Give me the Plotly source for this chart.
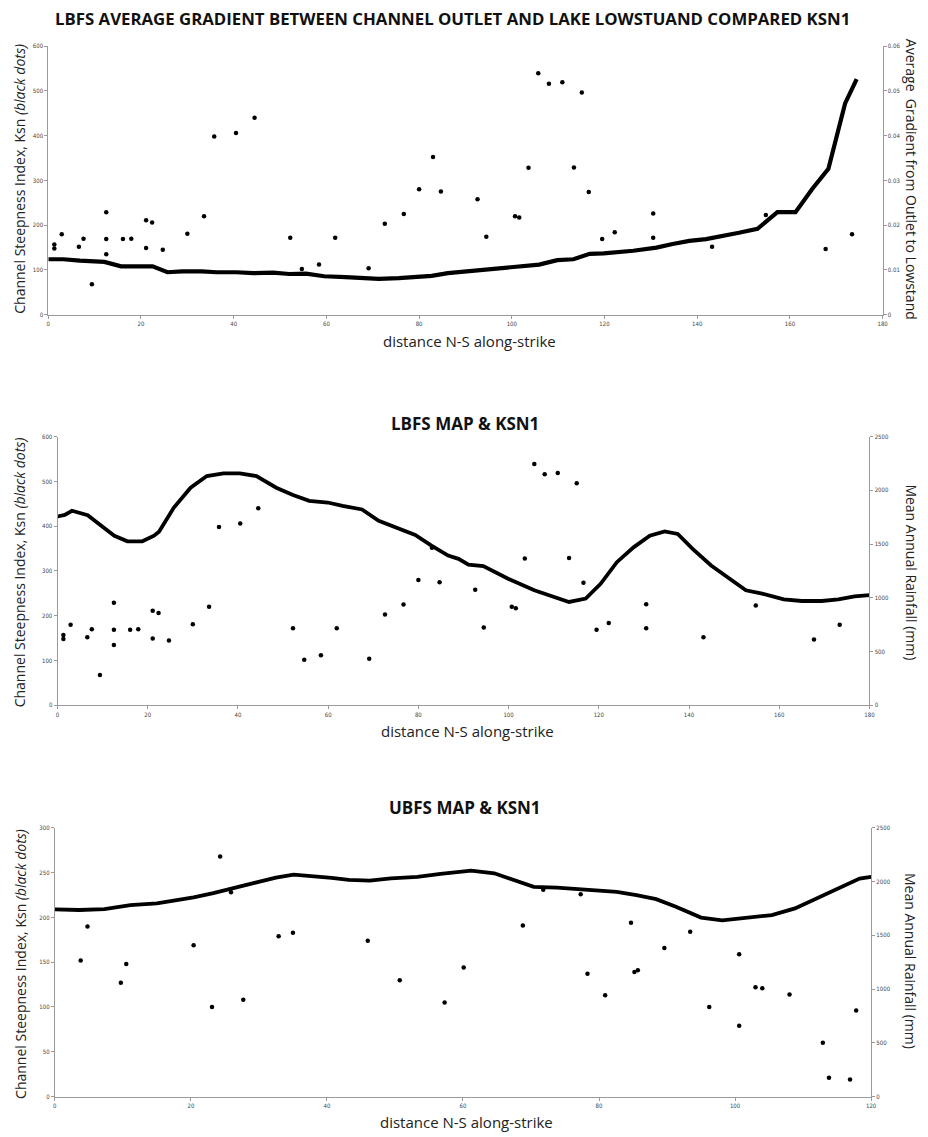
import plotly.graph_objects as go

W, H = 928, 1137

# ---------------- DATA ----------------
# LBFS Ksn (black dots) - used in panels 1 and 2
lbfs_ksn_x = [1.3, 1.3, 2.9, 6.6, 7.6, 9.4, 12.5, 12.5, 12.5, 16.1, 17.9, 21.1, 21.1, 22.4, 24.7,
              30.0, 33.6, 35.8, 40.5, 44.5, 52.2, 54.7, 58.4, 61.9, 69.1, 72.6, 76.7, 80.0, 83.0, 84.7,
              92.6, 94.5, 100.7, 101.6, 103.6, 105.7, 108.0, 110.9, 113.4, 115.1, 116.6, 119.5, 122.2,
              130.5, 130.5, 143.2, 154.8, 167.7, 173.4]
lbfs_ksn_y = [157, 148, 180, 152, 170, 68, 229, 169, 135, 169, 170, 211, 149, 206, 145,
              181, 220, 398, 406, 440, 172, 102, 112, 172, 104, 203, 225, 280, 352, 275,
              258, 174, 220, 217, 328, 539, 516, 519, 329, 496, 274, 169, 184,
              226, 172, 152, 223, 147, 180]

# LBFS average gradient from outlet to lowstand (line, panel 1)
grad_x = [0, 3.2, 6.8, 12.1, 15.7, 22.5, 25.7, 28.9, 33.1, 36.3, 40.6, 44.2, 48.5, 52.0, 55.6,
          59.5, 64.1, 67.7, 71.3, 75.6, 79.8, 82.7, 86.2, 88.4, 94.1, 99.8, 105.9, 109.8, 113.3,
          116.8, 119.8, 126.2, 131.2, 134.7, 138.3, 141.9, 145.5, 149.0, 153.0, 155.1, 157.3,
          161.2, 164.8, 168.3, 171.9, 174.4]
grad_y = [0.0124, 0.0124, 0.0121, 0.0118, 0.0108, 0.0108, 0.0095, 0.0097, 0.0097, 0.0095, 0.0095,
          0.0093, 0.0094, 0.0091, 0.0092, 0.0086, 0.0084, 0.0083, 0.0080, 0.0082, 0.0085, 0.0087,
          0.0093, 0.0095, 0.0102, 0.0107, 0.0112, 0.0122, 0.0124, 0.0136, 0.0137, 0.0143, 0.0150,
          0.0158, 0.0165, 0.0169, 0.0175, 0.0183, 0.0192, 0.0209, 0.0229, 0.0229, 0.0281, 0.0326,
          0.0472, 0.0526]

# LBFS mean annual rainfall (line, panel 2)
lbfs_map_x = [0, 1.6, 3.2, 4.9, 6.7, 9.7, 12.6, 15.5, 18.8, 21.4, 22.5, 25.8, 29.5, 33.1, 36.8,
              40.4, 44.1, 48.5, 52.2, 55.8, 59.9, 63.2, 67.5, 71.2, 74.9, 79.3, 82.9, 86.6, 88.9,
              91.1, 94.4, 99.9, 105.7, 113.4, 117.1, 120.4, 124.0, 127.7, 131.3, 134.6, 137.5,
              140.8, 144.9, 148.9, 152.6, 156.2, 161.0, 165.0, 169.4, 173.1, 176.7, 180]
lbfs_map_y = [1757, 1772, 1810, 1794, 1769, 1671, 1578, 1526, 1526, 1578, 1615, 1840, 2025, 2133,
              2158, 2158, 2133, 2025, 1957, 1902, 1887, 1856, 1822, 1717, 1655, 1585, 1486, 1393,
              1363, 1310, 1295, 1178, 1070, 962, 993, 1131, 1332, 1470, 1578, 1618, 1594, 1455,
              1301, 1178, 1070, 1039, 986, 971, 971, 986, 1014, 1026]

# UBFS Ksn (black dots, panel 3)
ubfs_ksn_x = [3.8, 4.8, 9.7, 10.5, 20.4, 23.1, 24.3, 25.9, 27.7, 32.9, 35.0, 46.0, 50.7, 57.3, 60.1,
              68.8, 71.8, 77.3, 78.3, 80.9, 84.7, 85.2, 85.7, 89.6, 93.4, 96.2, 100.6, 100.6,
              103.0, 104.0, 108.0, 112.9, 113.8, 116.9, 117.8]
ubfs_ksn_y = [152, 190, 127, 148, 169, 100, 268, 228, 108, 179, 183, 174, 130, 105, 144,
              191, 231, 226, 137, 113, 194, 139, 141, 166, 184, 100, 159, 79,
              122, 121, 114, 60, 21, 19, 96]

# UBFS mean annual rainfall (line, panel 3)
ubfs_map_x = [0, 3.6, 7.3, 11.1, 15.0, 17.9, 20.4, 23.3, 26.2, 29.1, 32.5, 35.1, 38.3, 40.7, 43.2,
              46.3, 49.4, 53.3, 56.7, 61.2, 64.6, 67.5, 70.4, 73.8, 77.2, 80.2, 82.6, 85.5, 88.4,
              91.3, 95.0, 98.1, 101.5, 105.4, 108.8, 112.2, 115.1, 118.3, 120]
ubfs_map_y = [1742, 1736, 1745, 1782, 1797, 1825, 1853, 1893, 1936, 1985, 2038, 2065, 2050, 2035,
              2016, 2010, 2031, 2044, 2072, 2102, 2078, 2016, 1951, 1945, 1930, 1924, 1905, 1874,
              1837, 1766, 1665, 1640, 1665, 1689, 1751, 1850, 1942, 2028, 2044]

titles = ["LBFS AVERAGE GRADIENT BETWEEN CHANNEL OUTLET AND LAKE LOWSTUAND COMPARED KSN1",
          "LBFS MAP & KSN1", "UBFS MAP & KSN1"]
left_title = "Channel Steepness Index, Ksn <i>(black dots)</i>"
right_titles = ["Average  Gradient from Outlet to Lowstand", "Mean Annual Rainfall (mm)",
                "Mean Annual Rainfall (mm)"]
x_title = "distance N-S along-strike"

# ---------------- LAYOUT GEOMETRY (pixels) ----------------
def px_x(p):
    return p / W

def px_y(p):
    return 1 - p / H

panels = [
    dict(x0=46.7, x1=888.3, top=42.3, bot=312.7, xr=[0, 180], yl=[0, 600], ydl=100,
         yr=[0, 0.06], ydr=0.01, title_y=15, lt_y=176, rt_y=176),
    dict(x0=56.0, x1=875.0, top=435.3, bot=705.7, xr=[0, 180], yl=[0, 600], ydl=100,
         yr=[0, 2500], ydr=500, title_y=422, lt_y=572, rt_y=572),
    dict(x0=53.3, x1=876.7, top=829.0, bot=1099.3, xr=[0, 120], yl=[0, 300], ydl=50,
         yr=[0, 2500], ydr=500, title_y=808, lt_y=966, rt_y=963),
]

FONT = "Open Sans"
AXCOL = "#9a9a9a"

fig = go.Figure()

dots = [(lbfs_ksn_x, lbfs_ksn_y), (lbfs_ksn_x, lbfs_ksn_y), (ubfs_ksn_x, ubfs_ksn_y)]
lines = [(grad_x, grad_y), (lbfs_map_x, lbfs_map_y), (ubfs_map_x, ubfs_map_y)]
lwidths = [4.2, 3.8, 3.8]
title_sizes = [16.8, 17, 17]

layout = dict(
    width=W, height=H, margin=dict(l=0, r=0, t=0, b=0),
    paper_bgcolor="white", plot_bgcolor="white", showlegend=False,
    font=dict(family=FONT, color="#222"),
)
annotations = []

for i, p in enumerate(panels):
    xn = "x" if i == 0 else f"x{i+1}"
    yl_n = f"y{2*i+1}" if i > 0 else "y"
    yr_n = f"y{2*i+2}"
    xkey = "xaxis" if i == 0 else f"xaxis{i+1}"
    ylkey = "yaxis" if i == 0 else f"yaxis{2*i+1}"
    yrkey = f"yaxis{2*i+2}"

    common = dict(showgrid=False, zeroline=False, showline=True, linecolor=AXCOL, linewidth=1,
                  ticks="outside", ticklen=3, tickcolor=AXCOL, tickwidth=1,
                  tickfont=dict(size=6, color="#444", family="DejaVu Sans Condensed"))
    layout[xkey] = dict(domain=[px_x(p["x0"]), px_x(p["x1"])], range=p["xr"], anchor=yl_n,
                        dtick=20, tick0=0, **common)
    layout[ylkey] = dict(domain=[px_y(p["bot"]), px_y(p["top"])], range=p["yl"], anchor=xn,
                         dtick=p["ydl"], tick0=0, **common)
    layout[yrkey] = dict(range=p["yr"], anchor=xn, overlaying=yl_n, side="right",
                         dtick=p["ydr"], tick0=0, **common)

    fig.add_trace(go.Scatter(x=lines[i][0], y=lines[i][1], mode="lines", xaxis=xn, yaxis=yr_n,
                             line=dict(color="black", width=lwidths[i]), hoverinfo="skip"))
    fig.add_trace(go.Scatter(x=dots[i][0], y=dots[i][1], mode="markers", xaxis=xn, yaxis=yl_n,
                             marker=dict(color="black", size=4.5), hoverinfo="skip"))

    cx = (p["x0"] + p["x1"]) / 2
    annotations.append(dict(text="<b>" + titles[i] + "</b>", x=px_x(454 if i == 0 else cx + 2),
                            y=px_y(p["title_y"]), xref="paper", yref="paper", showarrow=False,
                            xanchor="center", yanchor="middle",
                            font=dict(size=title_sizes[i], family=FONT, color="#111")))
    annotations.append(dict(text=x_title, x=px_x(cx + 4), y=px_y(p["bot"] + 26), xref="paper",
                            yref="paper", showarrow=False, xanchor="center", yanchor="middle",
                            font=dict(size=15, family=FONT, color="#222")))
    annotations.append(dict(text=left_title, x=px_x(18), y=px_y(p["lt_y"]), xref="paper",
                            yref="paper", showarrow=False, xanchor="center", yanchor="middle",
                            textangle=-90, font=dict(size=14, family=FONT, color="#222")))
    annotations.append(dict(text=right_titles[i], x=px_x(917), y=px_y(p["rt_y"]), xref="paper",
                            yref="paper", showarrow=False, xanchor="center", yanchor="middle",
                            textangle=90, font=dict(size=14, family=FONT, color="#222")))

layout["annotations"] = annotations
fig.update_layout(**layout)

fig.write_html("out.html")
